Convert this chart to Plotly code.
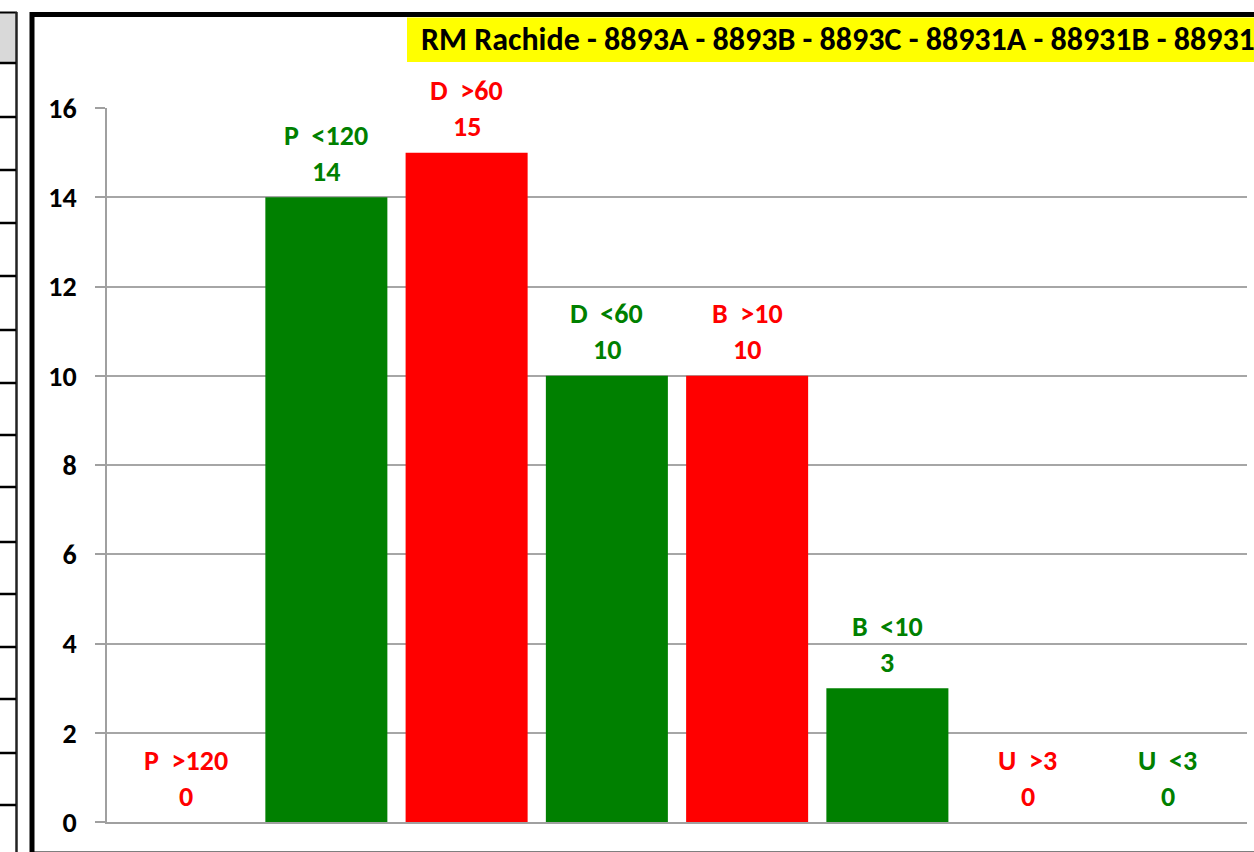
import plotly.graph_objects as go

# ---- data ----
categories = ["P >120", "P <120", "D >60", "D <60", "B >10", "B <10", "U >3", "U <3"]
label_names = ["P\u00a0\u00a0>120", "P\u00a0\u00a0<120", "D\u00a0\u00a0>60", "D\u00a0\u00a0<60",
               "B\u00a0\u00a0>10", "B\u00a0\u00a0<10", "U\u00a0\u00a0>3", "U\u00a0\u00a0<3"]
values = [0, 14, 15, 10, 10, 3, 0, 0]
bar_colors = ["#FF0000", "#008000", "#FF0000", "#008000", "#FF0000", "#008000", "#FF0000", "#008000"]
title_text = "RM Rachide - 8893A - 8893B - 8893C - 88931A - 88931B - 88931C"
y_ticks = [0, 2, 4, 6, 8, 10, 12, 14, 16]

FONT = "Carlito, Calibri, Lato, 'Open Sans', sans-serif"
W, H = 1254, 852
L, R, T, B = 107, 7, 108, 30
PW, PH = W - L - R, H - T - B


def px(x):
    return (x - L) / PW


def py(y):
    return (H - B - y) / PH


fig = go.Figure()
fig.add_trace(go.Bar(
    x=categories, y=values,
    marker=dict(color=bar_colors, line=dict(width=0)),
    hoverinfo="skip",
))

annotations = []
for c, n, v, col in zip(categories, label_names, values, bar_colors):
    annotations.append(dict(x=c, y=v, xref="x", yref="y", text=f"<b>{v}</b>", showarrow=False,
                            yanchor="middle", yshift=26,
                            font=dict(family=FONT, size=28, color=col)))
    annotations.append(dict(x=c, y=v, xref="x", yref="y", text=f"<b>{n}</b>", showarrow=False,
                            yanchor="middle", yshift=62,
                            font=dict(family=FONT, size=28, color=col)))

# title
annotations.append(dict(x=px(419), y=py(40), xref="paper", yref="paper", text=f"<b>{title_text}</b>",
                        showarrow=False, xanchor="left", yanchor="middle",
                        font=dict(family=FONT, size=32, color="black")))

shapes = []
# left spreadsheet strip
shapes.append(dict(type="rect", xref="paper", yref="paper", x0=px(-2), x1=px(16), y0=py(13), y1=py(63),
                   fillcolor="#d9d9d9", line=dict(width=0), layer="below"))
shapes.append(dict(type="line", xref="paper", yref="paper", x0=px(-2), x1=px(17), y0=py(12.5), y1=py(12.5),
                   line=dict(color="black", width=2)))
shapes.append(dict(type="line", xref="paper", yref="paper", x0=px(16.5), x1=px(16.5), y0=py(12), y1=py(860),
                   line=dict(color="#222222", width=2.5)))
for yy in [63, 117, 170, 223, 276, 330, 383, 435, 487, 542, 594, 647, 699, 753, 805]:
    shapes.append(dict(type="line", xref="paper", yref="paper", x0=px(-2), x1=px(16), y0=py(yy), y1=py(yy),
                       line=dict(color="black", width=2.5)))
# chart border
shapes.append(dict(type="rect", xref="paper", yref="paper", x0=px(32), x1=px(1270), y0=py(14.5), y1=py(854),
                   line=dict(color="black", width=5), fillcolor="rgba(0,0,0,0)"))
# title box
shapes.append(dict(type="rect", xref="paper", yref="paper", x0=px(407), x1=px(1270), y0=py(17.5), y1=py(62),
                   fillcolor="#FFFF00", line=dict(width=0), layer="below"))

fig.update_layout(
    width=W, height=H, autosize=False,
    margin=dict(l=L, r=R, t=T, b=B, pad=0),
    paper_bgcolor="white", plot_bgcolor="white",
    showlegend=False,
    bargap=0.13,
    annotations=annotations,
    shapes=shapes,
    xaxis=dict(type="category", range=[-0.564, 7.564], showticklabels=False, ticks="",
               showline=True, linecolor="#a0a0a0", linewidth=2, showgrid=False, zeroline=False,
               fixedrange=True),
    yaxis=dict(range=[0, 16], tickvals=y_ticks, showgrid=True, gridcolor="#a6a6a6", gridwidth=1.5,
               showline=True, linecolor="#a0a0a0", linewidth=1.5, ticks="outside", ticklen=10,
               tickcolor="#a0a0a0", tickwidth=1.5, zeroline=False, ticklabelstandoff=13,
               tickfont=dict(family=FONT, size=28, color="black", weight="bold"), fixedrange=True),
)

fig.write_html("out.html", config={"displayModeBar": False},
               post_script="document.body.style.margin='0px';document.body.style.overflow='hidden';")
